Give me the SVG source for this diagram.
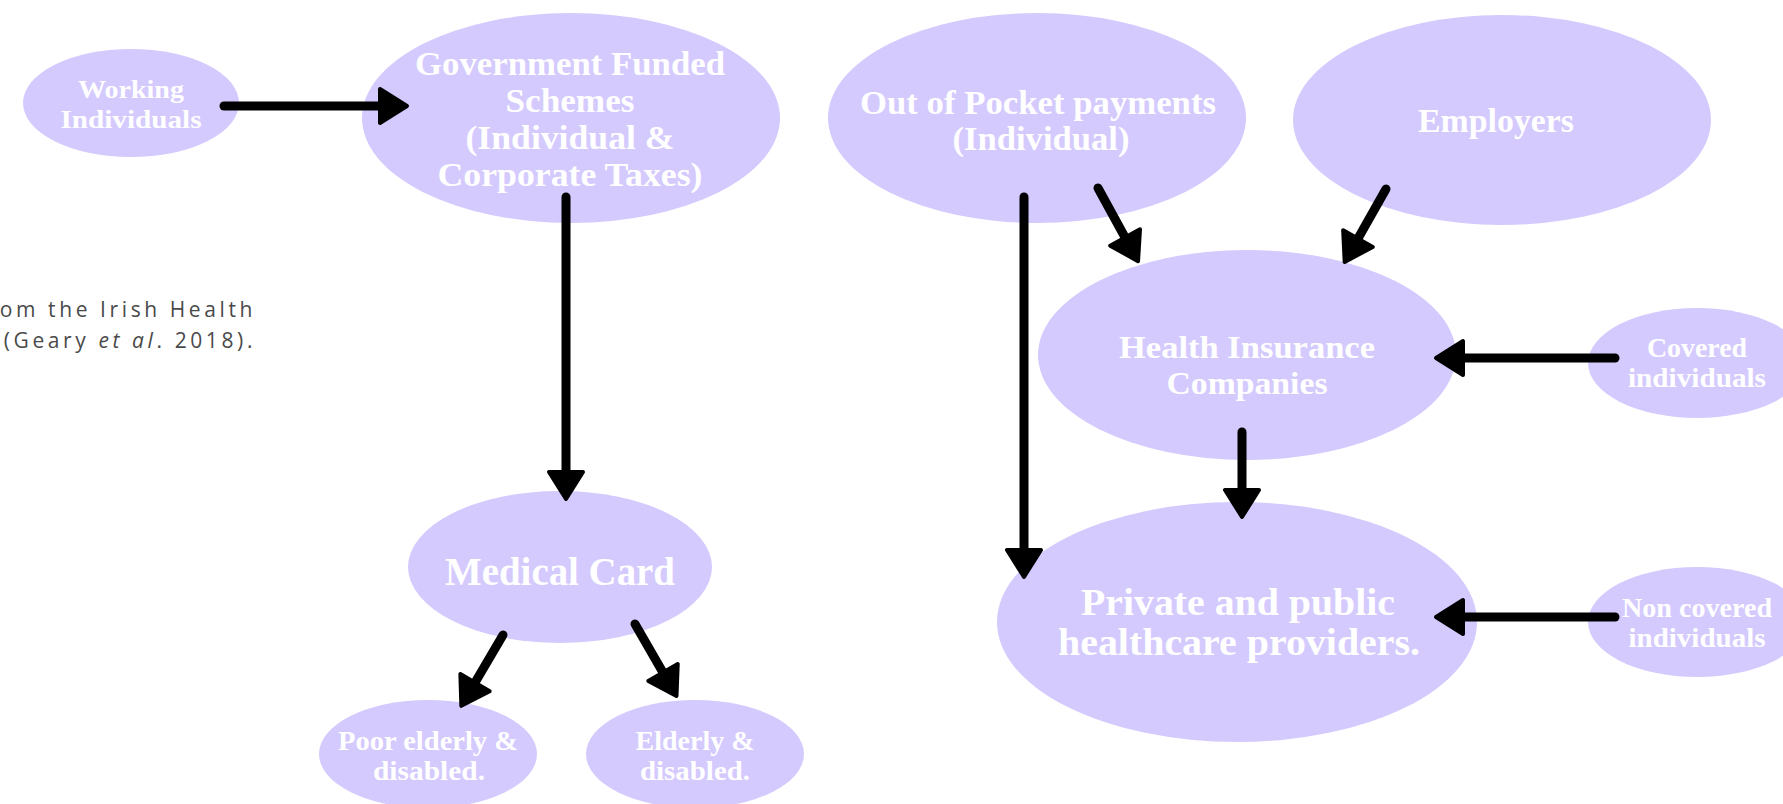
<svg xmlns="http://www.w3.org/2000/svg" width="1783" height="804" viewBox="0 0 1783 804">
  <style>
    .node ellipse { fill: #D4CAFE; }
    .node text { fill: #FFFFFF; font-family: "Liberation Serif", "DejaVu Serif", serif; font-weight: bold; text-anchor: middle; }
    .edge { fill: none; stroke: #000000; stroke-width: 9; stroke-linecap: round; marker-end: url(#head); }
    .caption { fill: #4A4A4A; font-family: "Open Sans", "Liberation Sans", sans-serif; font-weight: 400; font-size: 21px; letter-spacing: 3.6px; }
  </style>
  <defs>
    <marker id="head" markerUnits="userSpaceOnUse" markerWidth="36" markerHeight="48" viewBox="-3 -24 36 48" refX="4" refY="0" orient="auto">
      <path d="M0,-17 L27,0 L0,17 Z" fill="#000000" stroke="#000000" stroke-width="4" stroke-linejoin="round"/>
    </marker>
  </defs>

  <rect width="1783" height="804" fill="#FFFFFF"/>

  <!-- side caption, partly outside the page -->
  <g id="caption">
    <text class="caption" x="256" y="317" text-anchor="end">from the Irish Health</text>
    <text class="caption" x="256" y="348" text-anchor="end">(Geary <tspan font-style="italic">et al</tspan>. 2018).</text>
  </g>

  <!-- nodes -->
  <g id="working-individuals" class="node">
    <ellipse cx="131" cy="103" rx="108" ry="54"/>
    <text font-size="26" x="131" y="98" textLength="106" lengthAdjust="spacingAndGlyphs">Working</text>
    <text font-size="26" x="131" y="128" textLength="141" lengthAdjust="spacingAndGlyphs">Individuals</text>
  </g>

  <g id="government-funded" class="node">
    <ellipse cx="571" cy="118" rx="209" ry="105"/>
    <text font-size="34" x="570" y="75" textLength="310" lengthAdjust="spacingAndGlyphs">Government Funded</text>
    <text font-size="34" x="570" y="112" textLength="129" lengthAdjust="spacingAndGlyphs">Schemes</text>
    <text font-size="34" x="570" y="149" textLength="209" lengthAdjust="spacingAndGlyphs">(Individual &amp;</text>
    <text font-size="34" x="570" y="186" textLength="265" lengthAdjust="spacingAndGlyphs">Corporate Taxes)</text>
  </g>

  <g id="out-of-pocket" class="node">
    <ellipse cx="1037" cy="118" rx="209" ry="105"/>
    <text font-size="34" x="1038" y="114" textLength="356" lengthAdjust="spacingAndGlyphs">Out of Pocket payments</text>
    <text font-size="34" x="1041" y="150" textLength="177" lengthAdjust="spacingAndGlyphs">(Individual)</text>
  </g>

  <g id="employers" class="node">
    <ellipse cx="1502" cy="120" rx="209" ry="105"/>
    <text font-size="34" x="1496" y="132" textLength="156" lengthAdjust="spacingAndGlyphs">Employers</text>
  </g>

  <g id="health-insurance" class="node">
    <ellipse cx="1247" cy="355" rx="209" ry="105"/>
    <text font-size="32" x="1247" y="358" textLength="256" lengthAdjust="spacingAndGlyphs">Health Insurance</text>
    <text font-size="32" x="1247" y="394" textLength="161" lengthAdjust="spacingAndGlyphs">Companies</text>
  </g>

  <g id="covered-individuals" class="node">
    <ellipse cx="1697" cy="363" rx="109" ry="55"/>
    <text font-size="28" x="1697" y="357" textLength="100" lengthAdjust="spacingAndGlyphs">Covered</text>
    <text font-size="28" x="1697" y="387" textLength="138" lengthAdjust="spacingAndGlyphs">individuals</text>
  </g>

  <g id="medical-card" class="node">
    <ellipse cx="560" cy="567" rx="152" ry="76"/>
    <text font-size="40" x="560" y="585" textLength="230" lengthAdjust="spacingAndGlyphs">Medical Card</text>
  </g>

  <g id="healthcare-providers" class="node">
    <ellipse cx="1237" cy="622" rx="240" ry="120"/>
    <text font-size="38" x="1238" y="615" textLength="314" lengthAdjust="spacingAndGlyphs">Private and public</text>
    <text font-size="38" x="1239" y="655" textLength="362" lengthAdjust="spacingAndGlyphs">healthcare providers.</text>
  </g>

  <g id="non-covered-individuals" class="node">
    <ellipse cx="1697" cy="622" rx="109" ry="55"/>
    <text font-size="28" x="1697" y="617" textLength="150" lengthAdjust="spacingAndGlyphs">Non covered</text>
    <text font-size="28" x="1697" y="647" textLength="137" lengthAdjust="spacingAndGlyphs">individuals</text>
  </g>

  <g id="poor-elderly" class="node">
    <ellipse cx="428" cy="754" rx="109" ry="54"/>
    <text font-size="27" x="428" y="750" textLength="180" lengthAdjust="spacingAndGlyphs">Poor elderly &amp;</text>
    <text font-size="27" x="429" y="780" textLength="112" lengthAdjust="spacingAndGlyphs">disabled.</text>
  </g>

  <g id="elderly-disabled" class="node">
    <ellipse cx="695" cy="754" rx="109" ry="54"/>
    <text font-size="27" x="695" y="750" textLength="119" lengthAdjust="spacingAndGlyphs">Elderly &amp;</text>
    <text font-size="27" x="695" y="780" textLength="110" lengthAdjust="spacingAndGlyphs">disabled.</text>
  </g>

  <!-- connectors -->
  <g id="connectors">
    <path class="edge" d="M224,106 L384,106"/>
    <path class="edge" d="M566,197 L566,476"/>
    <path class="edge" d="M503,635 L473,686"/>
    <path class="edge" d="M635,624 L665,676"/>
    <path class="edge" d="M1024,197 L1024,554"/>
    <path class="edge" d="M1098,188 L1127,241"/>
    <path class="edge" d="M1386,189 L1356,242"/>
    <path class="edge" d="M1615,358 L1459,358"/>
    <path class="edge" d="M1242,432 L1242,494"/>
    <path class="edge" d="M1615,617 L1459,617"/>
  </g>
</svg>
